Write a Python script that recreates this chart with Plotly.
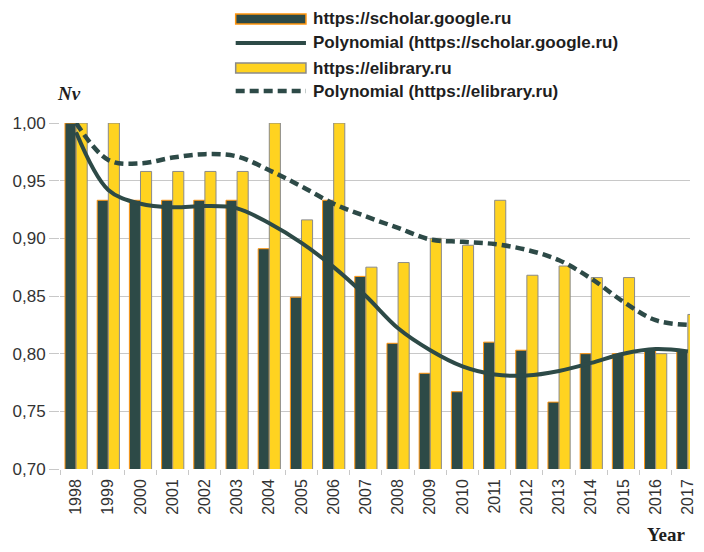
import plotly.graph_objects as go

# ---- data ----
years = [str(y) for y in range(1998, 2018)]
google = [1.000, 0.933, 0.933, 0.933, 0.933, 0.933, 0.891, 0.849, 0.933, 0.867,
          0.809, 0.783, 0.767, 0.810, 0.803, 0.758, 0.800, 0.800, 0.804, 0.802]
elibrary = [1.000, 1.000, 0.958, 0.958, 0.958, 0.958, 1.000, 0.916, 1.000, 0.875,
            0.879, 0.900, 0.894, 0.933, 0.868, 0.876, 0.866, 0.866, 0.800, 0.834]
google_trend = [0.992, 0.942, 0.930, 0.927, 0.928, 0.926, 0.913, 0.896, 0.875, 0.850,
                0.822, 0.803, 0.789, 0.782, 0.781, 0.785, 0.792, 0.800, 0.804, 0.802]
elibrary_trend = [1.000, 0.968, 0.965, 0.970, 0.973, 0.971, 0.959, 0.945, 0.930, 0.919,
                  0.909, 0.899, 0.897, 0.895, 0.890, 0.881, 0.865, 0.845, 0.829, 0.825]
y_ticks = [0.70, 0.75, 0.80, 0.85, 0.90, 0.95, 1.00]
legend_labels = ["https://scholar.google.ru",
                 "Polynomial (https://scholar.google.ru)",
                 "https://elibrary.ru",
                 "Polynomial (https://elibrary.ru)"]

DARK = "#2d4a47"
YELLOW = "#ffd320"
ORANGE = "#ff950e"
GRID = "#c8c8c8"

# the page body adds an 8px margin on every side; size the figure so the page
# does not overflow the window (no scrollbars)
OFF = 8
W, H = 704 - 2 * OFF, 552 - 2 * OFF
ML, MT = 59.5 - OFF, 123 - OFF
MB = H - (469 - OFF)
MR = 0
PW, PH = W - ML - MR, H - MT - MB
CAT_PX = 32.53  # category width in the reference, pixels


def px_x(px):
    # reference-window pixel -> paper x
    return (px - OFF - ML) / PW


def px_y(py):
    # reference-window pixel -> paper y
    return (H - MB - (py - OFF)) / PH


fig = go.Figure()
fig.add_trace(go.Bar(x=years, y=google, name=legend_labels[0],
                     marker=dict(color=DARK, line=dict(color=ORANGE, width=1))))
fig.add_trace(go.Bar(x=years, y=elibrary, name=legend_labels[2],
                     marker=dict(color=YELLOW, line=dict(color="#8a8a8a", width=1))))
fig.add_trace(go.Scatter(x=years, y=google_trend, mode="lines", name=legend_labels[1],
                         line=dict(color=DARK, width=4, shape="spline", smoothing=1.0)))
fig.add_trace(go.Scatter(x=years, y=elibrary_trend, mode="lines", name=legend_labels[3],
                         line=dict(color=DARK, width=4.5, shape="spline", smoothing=1.0,
                                   dash="9px,5px")))

# ---- manual legend ----
rows = [19, 43, 68, 91]
sx0, sx1, tx = 237, 308, 313
shapes = []
shapes.append(dict(type="rect", xref="paper", yref="paper",
                   x0=px_x(sx0), x1=px_x(sx1), y0=px_y(rows[0] + 5), y1=px_y(rows[0] - 5),
                   fillcolor=DARK, line=dict(color=ORANGE, width=1.5)))
shapes.append(dict(type="line", xref="paper", yref="paper",
                   x0=px_x(sx0), x1=px_x(sx1), y0=px_y(rows[1]), y1=px_y(rows[1]),
                   line=dict(color=DARK, width=4)))
shapes.append(dict(type="rect", xref="paper", yref="paper",
                   x0=px_x(sx0), x1=px_x(sx1), y0=px_y(rows[2] + 5), y1=px_y(rows[2] - 5),
                   fillcolor=YELLOW, line=dict(color="#8a8a8a", width=1.5)))
shapes.append(dict(type="line", xref="paper", yref="paper",
                   x0=px_x(sx0), x1=px_x(sx1), y0=px_y(rows[3]), y1=px_y(rows[3]),
                   line=dict(color=DARK, width=4.5, dash="9px,5px")))

annotations = []
for r, lab in zip(rows, legend_labels):
    annotations.append(dict(xref="paper", yref="paper", x=px_x(tx), y=px_y(r),
                            xanchor="left", yanchor="middle", showarrow=False,
                            text="<b>" + lab + "</b>",
                            font=dict(family="Liberation Sans", size=17, color="#1e1e1e")))
annotations.append(dict(xref="paper", yref="paper", x=px_x(54), y=px_y(93),
                        xanchor="left", yanchor="middle", showarrow=False,
                        text="<b><i>Nv</i></b>",
                        font=dict(family="Liberation Serif", size=19, color="#1e1e1e")))
annotations.append(dict(xref="paper", yref="paper", x=px_x(694), y=px_y(534),
                        xanchor="right", yanchor="middle", showarrow=False,
                        text="<b>Year</b>",
                        font=dict(family="Liberation Serif", size=19, color="#1e1e1e")))

fig.update_layout(
    width=W, height=H, autosize=False,
    margin=dict(l=ML, r=MR, t=MT, b=MB, pad=0),
    paper_bgcolor="white", plot_bgcolor="white",
    showlegend=False,
    barmode="group", bargap=0.31, bargroupgap=0.0,
    separators=",.",
    shapes=shapes, annotations=annotations,
    font=dict(family="Liberation Sans", color="#333333"),
)
fig.update_xaxes(
    type="category", range=[-0.5, -0.5 + PW / CAT_PX],
    tickangle=-90, tickfont=dict(size=16, color="#333333"),
    ticks="outside", tickson="boundaries", ticklen=5, tickcolor=GRID,
    ticklabelstandoff=6,
    showgrid=False, showline=False, zeroline=False,
)
fig.update_yaxes(
    range=[0.70, 1.00], tickvals=y_ticks, tickformat=".2f",
    tickfont=dict(size=17, color="#333333"),
    ticks="outside", ticklen=10, tickcolor=GRID, ticklabelstandoff=0,
    showgrid=True, gridcolor=GRID, gridwidth=1,
    showline=False, zeroline=False,
)

fig.write_html("out.html", config={"displayModeBar": False})
